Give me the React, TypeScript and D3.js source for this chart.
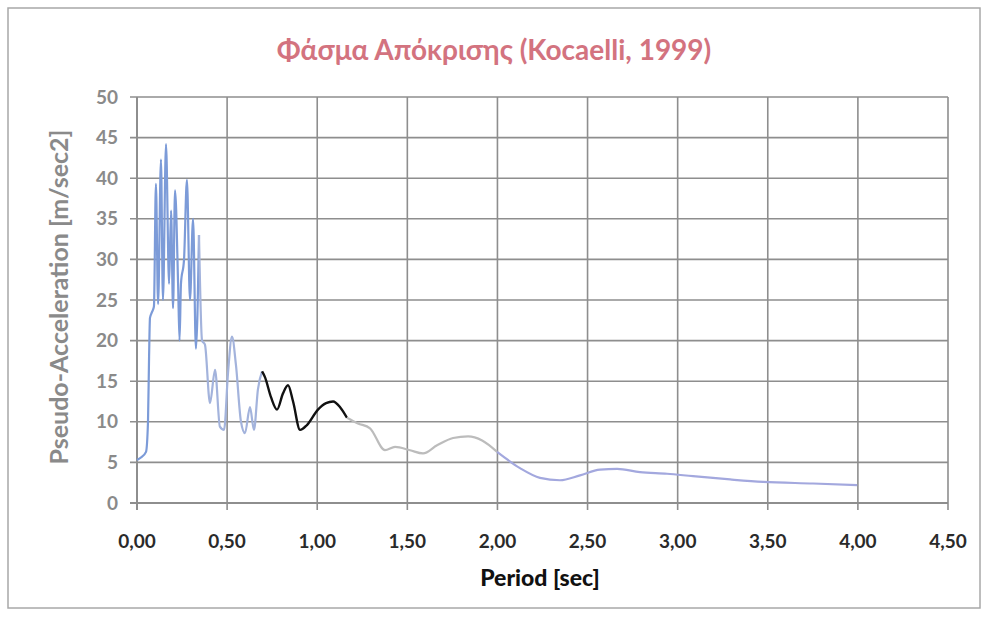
import React from "react";
import * as d3 from "d3";

// Response spectrum, Kocaeli 1999 — period [sec] vs pseudo-acceleration [m/sec2]
const periods: number[] = [
  0.0, 0.022, 0.05, 0.061, 0.067, 0.072, 0.083, 0.094, 0.105, 0.117,
  0.133, 0.144, 0.161, 0.178, 0.189, 0.2, 0.211, 0.228, 0.236, 0.244,
  0.261, 0.277, 0.294, 0.311, 0.327, 0.344, 0.361, 0.377, 0.405, 0.433,
  0.46, 0.483, 0.505, 0.527, 0.549, 0.577, 0.599, 0.627, 0.649, 0.671,
  0.694, 0.71, 0.744, 0.777, 0.81, 0.838, 0.866, 0.905, 0.943, 1.004,
  1.049, 1.088, 1.127, 1.165, 1.226, 1.293, 1.376, 1.432, 1.515, 1.587,
  1.665, 1.754, 1.837, 1.915, 1.998, 2.125, 2.236, 2.347, 2.458, 2.569,
  2.664, 2.791, 2.941, 3.085, 3.291, 3.474, 3.751, 3.996,
];
const accel: number[] = [
  5.3, 5.6, 6.3, 10, 18, 22.8, 23.5, 24.2, 39.3, 24.5,
  42.3, 25, 44.2, 27, 36, 24, 38.5, 27, 20, 27,
  30, 39.8, 25, 35, 19, 33, 20, 19.5, 12.3, 16.4,
  9.4, 9.0, 16, 20.5, 17, 10, 8.6, 11.8, 9.0, 14,
  16.2, 15.5, 13, 11.5, 13.5, 14.5, 12.5, 9.0, 9.6, 11.5,
  12.3, 12.5, 11.8, 10.5, 9.8, 9.2, 6.5, 6.9, 6.5, 6.1,
  7.1, 8.0, 8.2, 7.7, 6.3, 4.3, 3.1, 2.8, 3.4, 4.1,
  4.2, 3.8, 3.6, 3.3, 2.9, 2.6, 2.4, 2.2,
];

// Stroke colour changes along the trace (period ranges, sharing end points)
const segStart: number[] = [0, 0.344, 0.694, 1.165, 1.998];
const segEnd: number[] = [0.344, 0.694, 1.165, 1.998, 3.996];
const segColor: string[] = ["#7c9bd8", "#a3b3dc", "#111111", "#bcbcbc", "#a3a8de"];

const xTicks: number[] = [0, 0.5, 1, 1.5, 2, 2.5, 3, 3.5, 4, 4.5];
const yTicks: number[] = [0, 5, 10, 15, 20, 25, 30, 35, 40, 45, 50];

const title = "Φάσμα Απόκρισης (Kocaelli, 1999)";
const xTitle = "Period [sec]";
const yTitle = "Pseudo-Acceleration [m/sec2]";

const W = 988;
const H = 620;
const plot = { left: 137, right: 948, top: 97, bottom: 503 };
const font = "Lato, 'Open Sans', sans-serif";

export default function App() {
  const x = d3.scaleLinear().domain([0, 4.5]).range([plot.left, plot.right]);
  const y = d3.scaleLinear().domain([0, 50]).range([plot.bottom, plot.top]);

  const pts = periods.map((p, i) => ({ p, a: accel[i] }));
  const line = d3
    .line<{ p: number; a: number }>()
    .x((d) => x(d.p))
    .y((d) => y(d.a))
    .curve(d3.curveMonotoneX);

  const fmt = (v: number) => v.toFixed(2).replace(".", ",");
  const gridColor = "#8e8e8e";

  return (
    <svg
      width={W}
      height={H}
      style={{ position: "absolute", left: 0, top: 0, background: "#fff" }}
    >
      <rect x={8} y={8} width={972} height={600} fill="#fff" stroke="#a8a8a8" strokeWidth={1.5} />

      <text
        x={494}
        y={60}
        textAnchor="middle"
        fontFamily={font}
        fontWeight={700}
        fontSize={28}
        fill="#d3737f"
      >
        {title}
      </text>

      {/* horizontal grid + y ticks */}
      {yTicks.map((t) => (
        <g key={"y" + t}>
          <line
            x1={plot.left - 7}
            x2={plot.right}
            y1={y(t)}
            y2={y(t)}
            stroke={gridColor}
            strokeWidth={t === 0 ? 2 : 1.6}
          />
          <text
            x={plot.left - 19}
            y={y(t)}
            dy="0.35em"
            textAnchor="end"
            fontFamily={font}
            fontWeight={700}
            fontSize={19}
            fill="#8a8a8a"
          >
            {t}
          </text>
        </g>
      ))}

      {/* vertical grid + x ticks */}
      {xTicks.map((t) => (
        <g key={"x" + t}>
          <line
            x1={x(t)}
            x2={x(t)}
            y1={plot.top}
            y2={plot.bottom + 7}
            stroke={gridColor}
            strokeWidth={t === 0 ? 2 : 1.6}
          />
          <text
            x={x(t)}
            y={548}
            textAnchor="middle"
            fontFamily={font}
            fontWeight={700}
            fontSize={19}
            fill="#2a2a2a"
          >
            {fmt(t)}
          </text>
        </g>
      ))}

      {/* spectrum trace */}
      {segStart.map((s, i) => {
        const seg = pts.filter((d) => d.p >= s - 1e-9 && d.p <= segEnd[i] + 1e-9);
        return (
          <path
            key={"s" + i}
            d={line(seg) || ""}
            fill="none"
            stroke={segColor[i]}
            strokeWidth={i === 2 ? 2.4 : 2.2}
            strokeLinejoin="round"
          />
        );
      })}

      <text
        x={540}
        y={586}
        textAnchor="middle"
        fontFamily={font}
        fontWeight={900}
        fontSize={23}
        fill="#111"
      >
        {xTitle}
      </text>

      <text
        transform={`translate(68, ${(plot.top + plot.bottom) / 2 - 3}) rotate(-90)`}
        textAnchor="middle"
        fontFamily={font}
        fontWeight={700}
        fontSize={25}
        fill="#8a8a8a"
      >
        {yTitle}
      </text>
    </svg>
  );
}
